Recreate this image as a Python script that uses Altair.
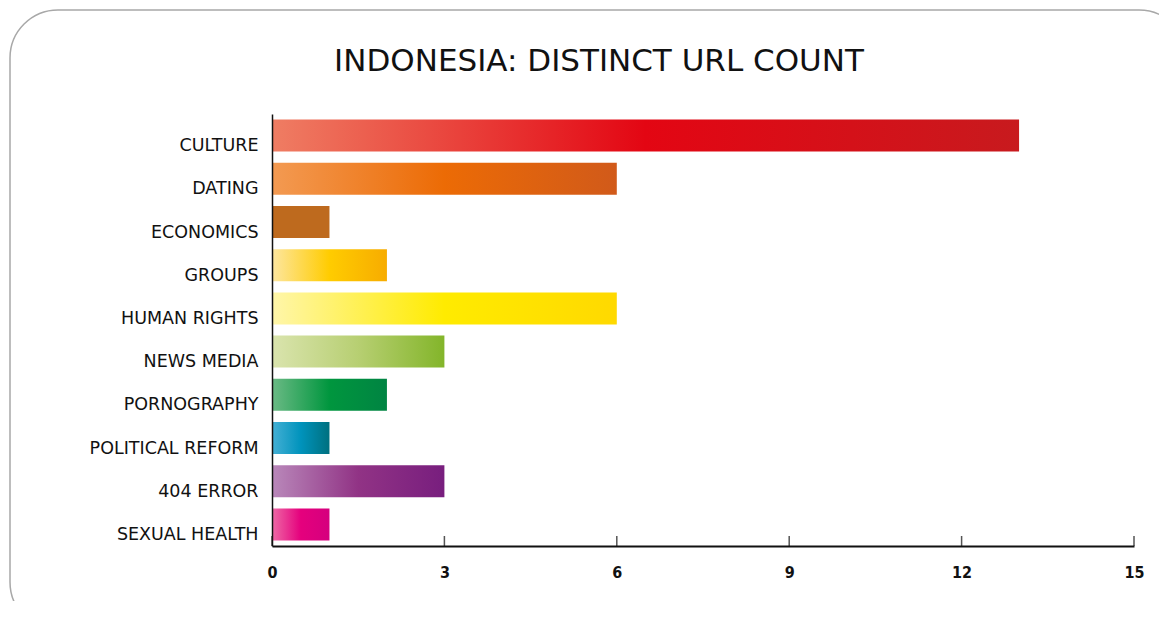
import altair as alt
import pandas as pd

categories = ["CULTURE", "DATING", "ECONOMICS", "GROUPS", "HUMAN RIGHTS",
              "NEWS MEDIA", "PORNOGRAPHY", "POLITICAL REFORM", "404 ERROR", "SEXUAL HEALTH"]
counts = [13, 6, 1, 2, 6, 3, 2, 1, 3, 1]
tick_values = [0, 3, 6, 9, 12, 15]

# gradient colours per bar: (left, middle, right)
bar_colors = [
    ("#EF7D63", "#E30613", "#C81A1E"),
    ("#F39A52", "#EC6B05", "#D15A1A"),
    ("#BE6A1E", "#BE6A1E", "#BE6A1E"),
    ("#FDE6A0", "#FFCC00", "#F7AC00"),
    ("#FFF6AA", "#FFEB00", "#FFD900"),
    ("#DAE4AE", "#B7CF72", "#83B52A"),
    ("#6BBA85", "#00963E", "#008442"),
    ("#45B0D5", "#0093BC", "#00707F"),
    ("#B988BA", "#913385", "#781E7E"),
    ("#EE6AA6", "#E5007D", "#D5007E"),
]

df = pd.DataFrame({"category": categories, "count": counts})
ticks_df = pd.DataFrame({"v": tick_values})

W, H = 862, 432
FONT = "DejaVu Sans"

x_scale = alt.Scale(domain=[0, 15], nice=False, zero=True)
y_scale = alt.Scale(domain=categories, paddingInner=0.26, paddingOuter=0.13)

x_axis = alt.Axis(values=tick_values, title=None, grid=False, ticks=False,
                  domainColor="#111", domainWidth=2, labelFont="DejaVu Sans Condensed",
                  labelFontSize=16, labelColor="#111", labelPadding=18, labelFontWeight="bold",
                  labelFlush=False, zindex=2)
y_axis = alt.Axis(title=None, ticks=False, domainColor="#111", domainWidth=1.5,
                  labelFont=FONT, labelFontSize=17.5, labelColor="#111", labelPadding=14,
                  labelOffset=10.5, labelLimit=400, zindex=2)

layers = []
# decorative rounded frame
frame = alt.Chart(alt.Data(values=[{}])).mark_rect(
    cornerRadius=48, filled=False, stroke="#a8a8a8", strokeWidth=1.5
).encode(x=alt.value(-262), x2=alt.value(915), y=alt.value(-104), y2=alt.value(516))
layers.append(frame)

for i, (cat, cols) in enumerate(zip(categories, bar_colors)):
    grad = alt.Gradient(
        gradient="linear",
        stops=[alt.GradientStop(color=cols[0], offset=0),
               alt.GradientStop(color=cols[1], offset=0.5),
               alt.GradientStop(color=cols[2], offset=1)],
        x1=0, x2=1, y1=0, y2=0,
    )
    layer = alt.Chart(df).transform_filter(
        alt.datum.category == cat
    ).mark_bar(color=grad).encode(
        x=alt.X("count:Q", scale=x_scale, axis=x_axis),
        y=alt.Y("category:N", scale=y_scale, sort=categories, axis=y_axis),
    )
    layers.append(layer)

ticks = alt.Chart(ticks_df).mark_rule(color="#555", strokeWidth=1.5).encode(
    x=alt.X("v:Q", scale=x_scale, axis=x_axis),
    y=alt.value(H - 10), y2=alt.value(H),
)
layers.append(ticks)

chart = alt.layer(*layers).properties(
    width=W, height=H,
    title=alt.TitleParams("INDONESIA: DISTINCT URL COUNT", font=FONT, fontSize=31,
                          fontWeight="normal", color="#111", anchor="middle",
                          dx=-104, offset=-93, baseline="alphabetic"),
    autosize=alt.AutoSizeParams(type="none"),
    padding={"left": 264, "top": 106, "right": 25, "bottom": 55},
    background="white",
).configure_view(stroke=None)

chart.save("out.html", embed_options={"renderer": "svg", "actions": False})
